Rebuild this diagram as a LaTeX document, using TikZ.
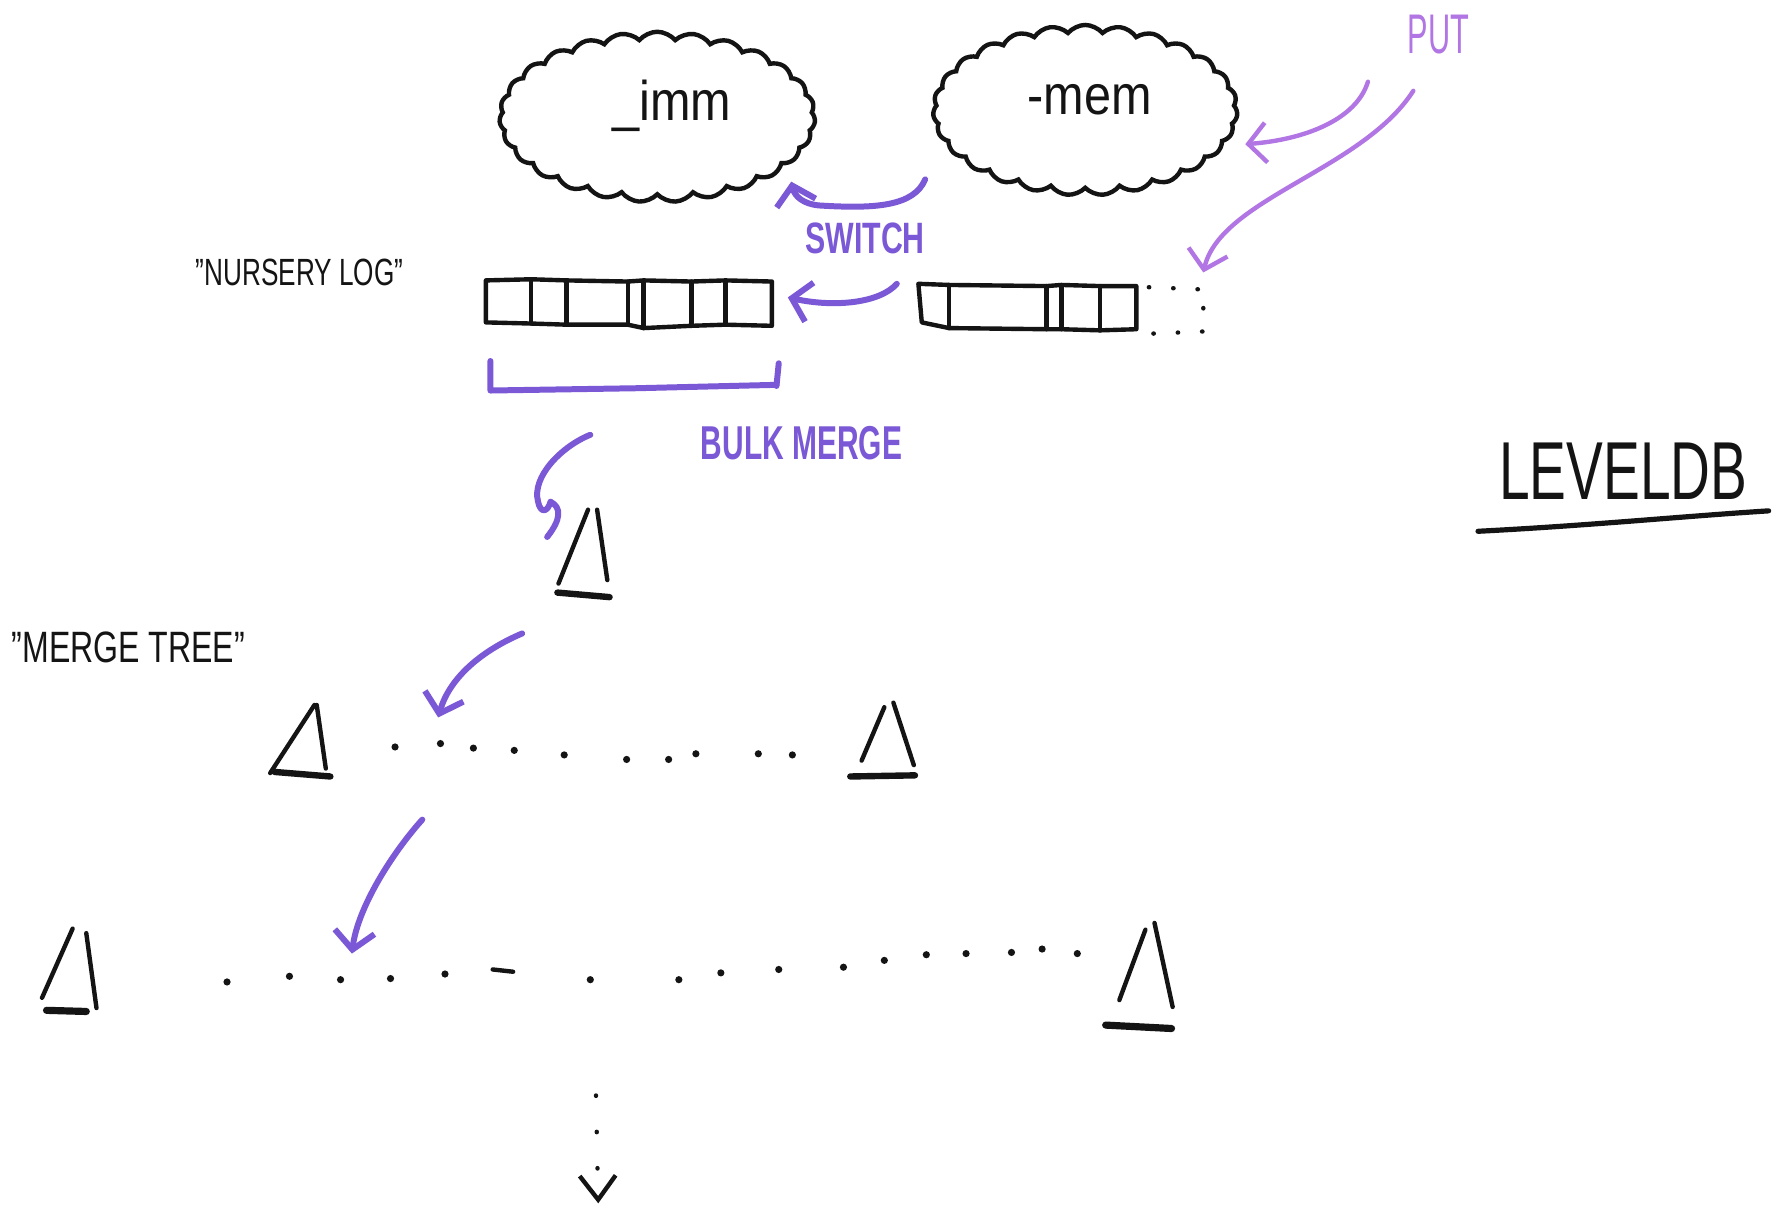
\documentclass[tikz,border=0pt]{standalone}
\usepackage{fontspec}
\setmainfont{Liberation Sans}
\usetikzlibrary{shapes.symbols,arrows.meta}

\definecolor{ink}{RGB}{20,20,20}
\definecolor{switchv}{RGB}{122,88,214}
\definecolor{putv}{RGB}{178,118,228}

\tikzset{
  pen/.style={draw=ink, line width=1.1pt, line cap=round, line join=round},
  vpen/.style={draw=switchv, line width=1.5pt, line cap=round, line join=round},
  ppen/.style={draw=putv, line width=1.1pt, line cap=round, line join=round},
  barb/.style={-{Straight Barb[length=4.5pt,width=10pt]}},
  memcloud/.style={cloud, cloud puffs=27, cloud puff arc=100, cloud ignores aspect,
    draw=ink, line width=1.1pt, inner sep=0pt},
  hand/.style={inner sep=0pt, text=ink},
  vhand/.style={inner sep=0pt, text=switchv},
  phand/.style={inner sep=0pt, text=putv},
  dotmark/.style={fill=ink},
}

\begin{document}
\begin{tikzpicture}[x=0.01cm, y=-0.01cm]
  \fill[white] (0,0) rectangle (1568,1069);
  \useasboundingbox (0,0) rectangle (1568,1069);

  % memtables
  \node[memcloud, minimum width=2.78cm, minimum height=1.5cm] (imm) at (579,103) {};
  \node[memcloud, minimum width=2.68cm, minimum height=1.5cm] (mem) at (956,97) {};
  \node[hand, xscale=0.87, font=\fontsize{14}{16}\selectfont] (immtxt) at (592,93) {\_imm};
  \node[hand, xscale=0.87, font=\fontsize{14}{16}\selectfont] (memtxt) at (960,88) {-mem};

  % labels
  \node[phand, xscale=0.55, font=\fontsize{14}{16}\selectfont] (put) at (1267,30) {PUT};
  \node[vhand, xscale=0.69, font=\fontsize{11}{13}\bfseries] (switch) at (762,210) {SWITCH};
  \node[vhand, xscale=0.63, font=\fontsize{11.9}{14}\bfseries] (bulk) at (706,390) {BULK MERGE};
  \node[hand, xscale=0.69, font=\fontsize{9.5}{12}\selectfont] (nursery) at (264,240) {"NURSERY LOG"};
  \node[hand, xscale=0.73, font=\fontsize{11}{13}\selectfont] (mtree) at (113,570) {"MERGE TREE"};
  \node[hand, xscale=0.67, font=\fontsize{20.6}{24}\selectfont] (leveldb) at (1430,415) {LEVELDB};
  \coordinate (ulA) at (1302,468);
  \coordinate (ulB) at (1558,450);
  \draw[pen, line width=1.3pt] (ulA) .. controls (1400,463) and (1480,455) .. (ulB);

  % immutable log segment
  \coordinate (oldNW) at (428,246);
  \coordinate (oldSE) at (680,287);
  \draw[pen] (428,247) -- (468,246) -- (499,247) -- (553,248) -- (567,247) -- (609,248) -- (639,247) -- (680,248)
             -- (680,287) -- (639,286) -- (609,287) -- (567,289) -- (553,286) -- (499,286) -- (468,285) -- (428,284) -- cycle;
  \foreach \x/\a/\b in {468/246/285, 499/247/286, 553/248/286, 567/247/289, 609/248/287, 639/247/286}
    \draw[pen] (\x,\a) -- (\x,\b);

  % current log segment
  \coordinate (newNW) at (809,250);
  \draw[pen] (809,250) -- (836,251) -- (922,252) -- (935,251) -- (969,252) -- (1001,252)
             -- (1001,290) -- (969,291) -- (935,290) -- (922,290) -- (836,289) -- (812,284) -- cycle;
  \foreach \x/\a/\b in {836/251/289, 922/252/290, 935/251/290, 969/252/291}
    \draw[pen] (\x,\a) -- (\x,\b);
  % free slot for the next record
  \coordinate (slot) at (1060,240);
  \draw[pen, dash pattern=on 0.1pt off 6pt] (1012,253) -- (1060,255) -- (1060,292) -- (1012,294);

  % put arrows
  \coordinate (puttailA) at (1205,72);
  \coordinate (puttailB) at (1245,80);
  \coordinate (memin) at (1097,127);
  \draw[ppen, barb] (puttailA) .. controls (1195,105) and (1150,123) .. (memin);
  \draw[ppen, barb] (puttailB) .. controls (1200,150) and (1075,175) .. (slot);

  % switch arrows
  \coordinate (memout) at (815,158);
  \coordinate (immin) at (697,160);
  \draw[vpen, barb] (memout) .. controls (805,182) and (770,184) .. (722,181)
                    .. controls (708,180) and (700,173) .. (immin);
  \coordinate (newout) at (790,250);
  \coordinate (oldin) at (694,262);
  \draw[vpen, barb] (newout) .. controls (775,267) and (735,271) .. (oldin);

  % bulk merge bracket
  \draw[vpen] (432,318) -- (432,344) -- (560,342) -- (684,339);
  \draw[vpen] (686,320) -- (684,340);

  % bulk merge arrow into the top tree
  \coordinate (bmtail) at (520,383);
  \coordinate (bmhead) at (482,473);
  \draw[vpen] (bmtail) .. controls (495,393) and (468,420) .. (474,442)
              .. controls (476,452) and (482,452) .. (485,442);
  \draw[vpen] (485,442) .. controls (495,447) and (494,458) .. (bmhead);

  % merge tree levels
  \coordinate (tri0) at (522,449);
  \draw[pen] (518,449) -- (492,514);
  \draw[pen] (526,449) -- (535,511);
  \draw[pen, line width=1.6pt] (491,522) -- (537,526);

  \coordinate (tri1l) at (278,621);
  \draw[pen] (277,621) -- (238,681);
  \draw[pen] (279,621) -- (287,677);
  \draw[pen, line width=1.6pt] (242,680) -- (291,684);

  \coordinate (tri1r) at (783,620);
  \draw[pen] (779,623) -- (759,670);
  \draw[pen] (787,619) -- (805,674);
  \draw[pen, line width=1.6pt] (749,684) -- (806,683);

  \coordinate (tri2l) at (70,820);
  \draw[pen] (64,818) -- (37,879);
  \draw[pen] (76,822) -- (85,888);
  \draw[pen, line width=1.8pt] (41,890) -- (76,891);

  \coordinate (tri2r) at (1013,815);
  \draw[pen] (1009,819) -- (986,881);
  \draw[pen] (1017,813) -- (1033,887);
  \draw[pen, line width=1.8pt] (974,903) -- (1032,906);

  % elided trees on each level
  \foreach \x/\y in {348/658, 388/655, 417/659, 453/661, 497/665, 552/669, 589/669, 613/664, 668/664, 698/665}
    \fill[dotmark] (\x,\y) circle (0.9pt);
  \foreach \x/\y in {200/865, 255/860, 300/863, 344/862, 392/858, 520/863, 598/863, 635/857, 686/854,
                     743/852, 779/846, 816/841, 851/840, 891/839, 918/836, 949/840}
    \fill[dotmark] (\x,\y) circle (0.9pt);
  \draw[pen] (434,854) -- (452,856);

  % merge arrows between levels
  \coordinate (m0out) at (460,558);
  \coordinate (m1in) at (386,632);
  \draw[vpen, barb] (m0out) .. controls (420,575) and (395,600) .. (m1in);
  \coordinate (m1out) at (372,722);
  \coordinate (m2in) at (310,840);
  \draw[vpen, barb] (m1out) .. controls (345,752) and (315,800) .. (m2in);

  % deeper levels
  \coordinate (deeptop) at (525,965);
  \coordinate (deepend) at (527,1060);
  \draw[pen, dash pattern=on 0.1pt off 9pt, -{Straight Barb[length=6pt,width=9pt]}] (deeptop) -- (deepend);
\end{tikzpicture}
\end{document}
